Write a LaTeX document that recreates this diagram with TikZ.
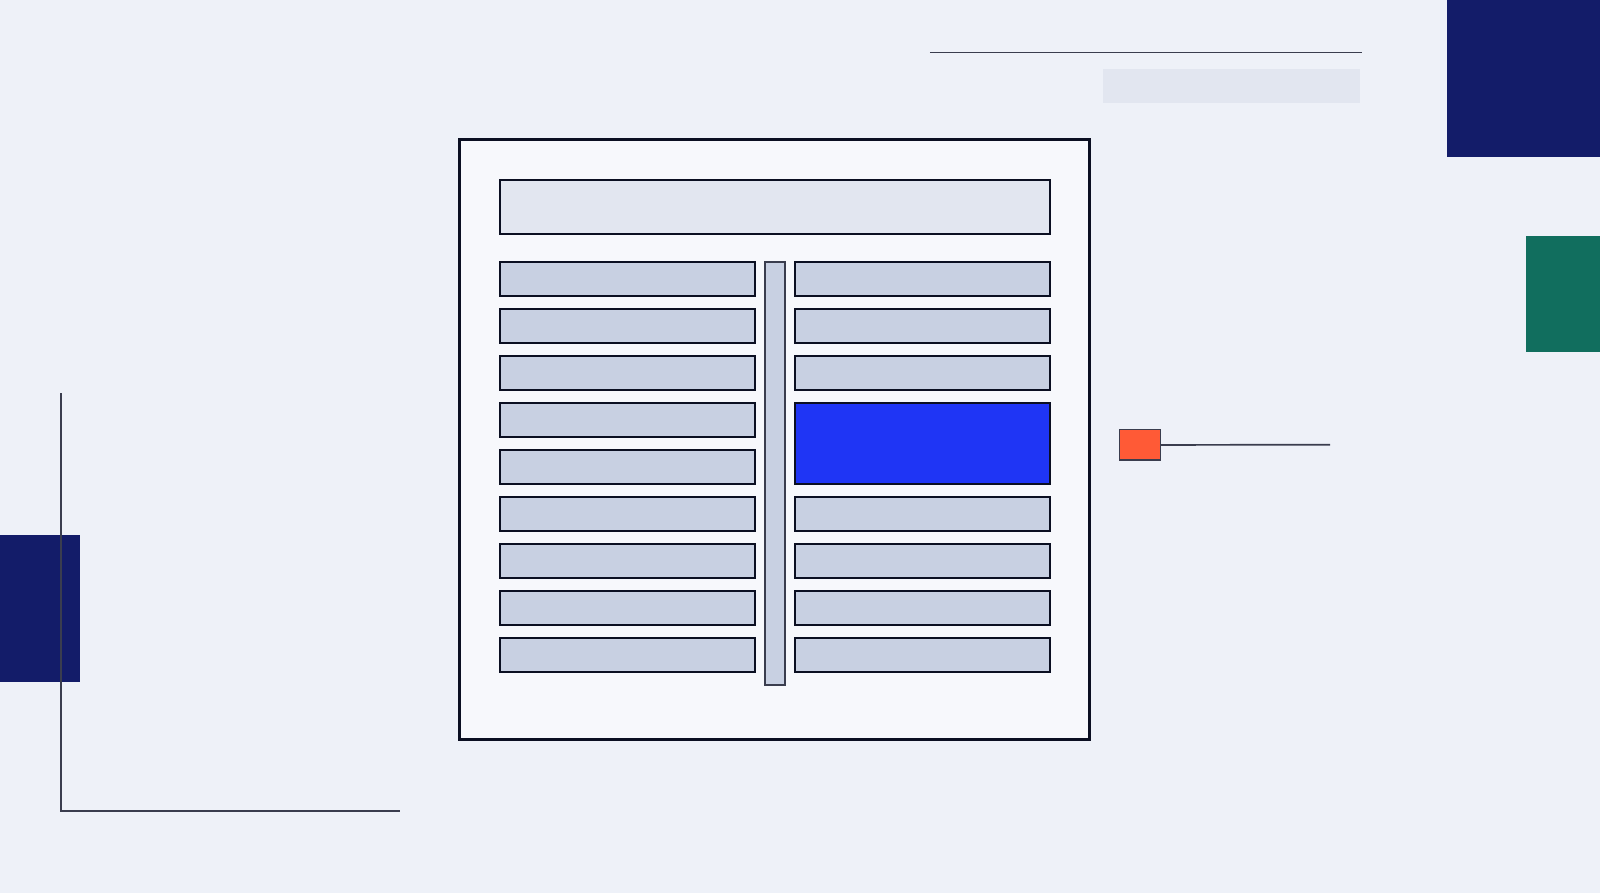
\documentclass[tikz,border=0pt]{standalone}
\usetikzlibrary{positioning}
\definecolor{bgc}{HTML}{EEF1F8}
\definecolor{framefill}{HTML}{F7F8FC}
\definecolor{headfill}{HTML}{E2E6F0}
\definecolor{rowfill}{HTML}{C8D0E2}
\definecolor{ink}{HTML}{0B0F22}
\definecolor{linec}{HTML}{3A3D4E}
\definecolor{hiblue}{HTML}{1F35F5}
\definecolor{orangec}{HTML}{FF5A36}
\definecolor{navyc}{HTML}{131C69}
\definecolor{greenc}{HTML}{116E5E}
\tikzset{
  box/.style={rectangle, inner sep=0pt, outer sep=0pt, anchor=north west},
  rowbox/.style={box, draw=ink, line width=2pt, fill=rowfill, minimum width=255pt, minimum height=34pt},
  solidblock/.style={box, draw=none},
  thinline/.style={draw=linec, line width=1.7pt},
}
\begin{document}
\begin{tikzpicture}[x=1pt,y=-1pt]
\fill[bgc] (0,0) rectangle (1600,893);
\useasboundingbox (0,0) rectangle (1600,893);
% decorative blocks
\node[solidblock, fill=navyc, minimum width=80pt, minimum height=146.5pt] (leftnavy) at (0,535) {};
\node[solidblock, fill=navyc, minimum width=154pt, minimum height=157.5pt] (topnavy) at (1446.5,0) {};
\node[solidblock, fill=greenc, minimum width=74pt, minimum height=115.5pt] (greenblk) at (1526,236) {};
\node[solidblock, fill=headfill, minimum width=257.5pt, minimum height=34pt] (grayrect) at (1102.5,69) {};
% lines
\coordinate (lt) at (61,393.3);
\coordinate (lc) at (61,811);
\coordinate (lr) at (400,811);
\draw[thinline] (lt) -- (lc) -- (lr);
\coordinate (tl1) at (929.8,52.5);
\coordinate (tl2) at (1361.5,52.5);
\draw[thinline] (tl1) -- (tl2);
% main frame
\node[box, draw=ink, line width=3pt, fill=framefill, minimum width=630pt, minimum height=600pt] (frame) at (459.5,139.5) {};
\node[box, draw=ink, line width=2pt, fill=headfill, minimum width=550pt, minimum height=54pt] (header) at (500,180) {};
% left column
\foreach \i in {0,...,8}{
  \node[rowbox] (l\i) at (500,{262+47*\i}) {};
}
% right column
\foreach \i in {0,1,2,5,6,7,8}{
  \node[rowbox] (r\i) at (795,{262+47*\i}) {};
}
\node[box, draw=ink, line width=2pt, fill=hiblue, minimum width=255pt, minimum height=81pt] (sel) at (795,403) {};
% scrollbar
\node[box, draw=linec, line width=1.5pt, fill=rowfill, minimum width=20pt, minimum height=423pt] (scroll) at (765,262) {};
% orange marker
\node[box, draw=linec, line width=1.5pt, fill=orangec, minimum width=41pt, minimum height=30.5pt] (marker) at (1119.3,429.7) {};
\coordinate (mend) at (1330,444.7);
\draw[thinline] (marker.east) -- (mend);
\end{tikzpicture}
\end{document}
